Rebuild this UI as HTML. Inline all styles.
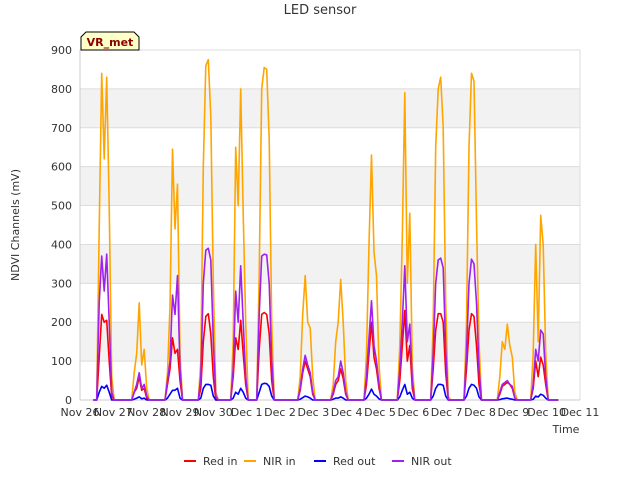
<!DOCTYPE html>
<html><head><meta charset="utf-8"><style>
body{margin:0;background:#fff;font-family:"Liberation Sans","DejaVu Sans",sans-serif}
</style></head><body>
<svg width="640" height="480" xmlns="http://www.w3.org/2000/svg" id="chart" style="font-family:'DejaVu Sans','Liberation Sans',sans-serif">
<rect width="640" height="480" fill="#fff"/>
<g id="grid"></g>
<g id="axes"></g>
<g id="series"></g>
<text x="320" y="14" text-anchor="middle" font-size="13" fill="#333">LED sensor</text>
<text transform="translate(19,225) rotate(-90)" text-anchor="middle" font-size="11" fill="#333">NDVI Channels (mV)</text>
<text x="566" y="433" text-anchor="middle" font-size="11" fill="#333">Time</text>
<g>
<path d="M81,50 L81,37 L86,32 L134,32 L139,37 L139,50 Z" fill="#ffffc8" stroke="#000" stroke-width="1"/>
<text x="110" y="46" text-anchor="middle" font-size="11" font-weight="bold" fill="#8b0000">VR_met</text>
</g>
<g id="legend"></g>
</svg>
<script>
const dayCenters=[0.8,1.85,2.85,3.85,4.82,5.6,6.83,7.82,8.82,9.82,10.82,11.82,12.82,13.82];
const nirIn=[[0,440,840,620,830,500,60,0,0],[0,70,120,250,90,130,30,0,0],[0,70,240,645,440,555,120,0,0],[0,100,600,860,875,730,300,20,0],[0,150,650,500,800,480,200,0,0],[0,320,800,855,850,670,200,0,0],[0,60,220,320,200,185,60,0,0],[0,40,150,200,310,200,50,0,0],[0,120,400,630,380,320,90,0,0],[0,140,420,790,300,480,90,0,0],[0,200,650,800,830,700,250,10,0],[0,200,650,840,820,460,150,0,0],[0,60,150,130,195,140,110,20,0],[0,120,400,150,475,400,120,0,0]];
const nirOut=[[0,250,370,280,375,200,20,0,0],[0,20,40,70,30,40,10,0,0],[0,50,100,270,220,320,80,0,0],[0,60,300,385,390,360,150,10,0],[0,80,280,200,345,200,60,0,0],[0,220,370,375,373,300,100,0,0],[0,30,80,115,90,70,20,0,0],[0,20,50,60,100,70,20,0,0],[0,60,160,255,140,100,40,0,0],[0,80,200,345,150,195,50,0,0],[0,120,300,360,365,340,130,0,0],[0,120,300,362,350,250,80,0,0],[0,20,40,45,50,40,35,5,0],[0,40,130,100,180,170,60,0,0]];
const redIn=[[0,110,220,200,205,100,10,0,0],[0,20,30,60,25,30,5,0,0],[0,40,80,160,120,130,50,0,0],[0,30,150,215,222,170,60,0,0],[0,60,160,130,205,120,40,0,0],[0,130,220,225,220,170,50,0,0],[0,25,70,100,80,60,15,0,0],[0,15,40,50,80,55,15,0,0],[0,40,120,200,110,80,30,0,0],[0,50,140,230,100,140,30,0,0],[0,80,180,222,222,200,70,0,0],[0,80,180,222,215,140,40,0,0],[0,15,35,40,45,40,30,5,0],[0,30,100,60,110,90,40,0,0]];
const redOut=[[0,20,35,30,38,20,0,0,0],[0,2,5,8,3,5,0,0,0],[0,5,15,25,25,30,5,0,0],[0,5,30,40,40,38,10,0,0],[0,5,20,15,30,20,5,0,0],[0,20,40,43,42,35,10,0,0],[0,2,6,10,8,5,0,0,0],[0,2,5,5,8,5,0,0,0],[0,5,15,28,15,10,3,0,0],[0,8,25,40,15,20,5,0,0],[0,10,30,40,40,38,10,0,0],[0,10,30,40,38,30,8,0,0],[0,1,3,4,5,3,2,0,0],[0,2,10,8,15,12,5,0,0]];
const xTicks=["Nov 26","Nov 27","Nov 28","Nov 29","Nov 30","Dec 1","Dec 2","Dec 3","Dec 4","Dec 5","Dec 6","Dec 7","Dec 8","Dec 9","Dec 10","Dec 11"];
const yTicks=[0,100,200,300,400,500,600,700,800,900];
const seriesNames=["Red in","NIR in","Red out","NIR out"];
const seriesColors=["#ff0000","#ffa500","#0000ff","#a020f0"];
const NS="http://www.w3.org/2000/svg";
const L=80,R=580,T=50,B=400;
const xs=d=>L+(R-L)*d/15, ys=v=>B-(B-T)*v/900;
function mk(tag,attrs,parent){const e=document.createElementNS(NS,tag);for(const k in attrs)e.setAttribute(k,attrs[k]);parent.appendChild(e);return e;}
const grid=document.getElementById('grid'),axes=document.getElementById('axes'),ser=document.getElementById('series'),leg=document.getElementById('legend');
for(let i=0;i<yTicks.length-1;i++){
  if(i%2===1){const r=mk('rect',{x:L,y:ys(yTicks[i+1]),width:R-L,height:ys(yTicks[i])-ys(yTicks[i+1]),fill:'#f2f2f2'},grid);
  
  }
}
yTicks.forEach(v=>{const l=mk('line',{x1:L,x2:R,y1:ys(v),y2:ys(v),stroke:'#dcdcdc','stroke-width':1},grid);


const t=mk('text',{x:L-8,y:ys(v)+4,'text-anchor':'end','font-size':11,fill:'#333'},axes);t.textContent=v;

});
mk('line',{x1:R,x2:R,y1:T,y2:B,stroke:'#dcdcdc'},grid);
mk('line',{x1:L,x2:L,y1:T,y2:B,stroke:'#ccc'},axes);
mk('line',{x1:L,x2:R,y1:B,y2:B,stroke:'#ccc'},axes);
xTicks.forEach((s,i)=>{const t=mk('text',{x:xs(i),y:B+16,'text-anchor':'middle','font-size':11,fill:'#333'},axes);t.textContent=s;

});
const all=[redIn,nirIn,redOut,nirOut];
const step=0.075;
all.forEach((data,si)=>{
  let pts=[[xs(0.4),ys(0)]];
  dayCenters.forEach((c,di)=>{data[di].forEach((v,k)=>{pts.push([xs(c+(k-4)*step),ys(v)]);});});
  pts.push([xs(14.35),ys(0)]);
  const p=mk('polyline',{points:pts.map(p=>p[0].toFixed(1)+','+p[1].toFixed(1)).join(' '),fill:'none',stroke:seriesColors[si],'stroke-width':1.6,'stroke-linejoin':'round'},ser);
  
  
});
const lx=[184,244,314,392];
seriesNames.forEach((n,i)=>{
  const g=mk('g',{},leg);
  
  
  mk('line',{x1:lx[i],x2:lx[i]+12,y1:461,y2:461,stroke:seriesColors[i],'stroke-width':2},g);
  const t=mk('text',{x:lx[i]+19,y:465,'font-size':11,fill:'#333'},g);t.textContent=n;
});
</script>
</body></html>
